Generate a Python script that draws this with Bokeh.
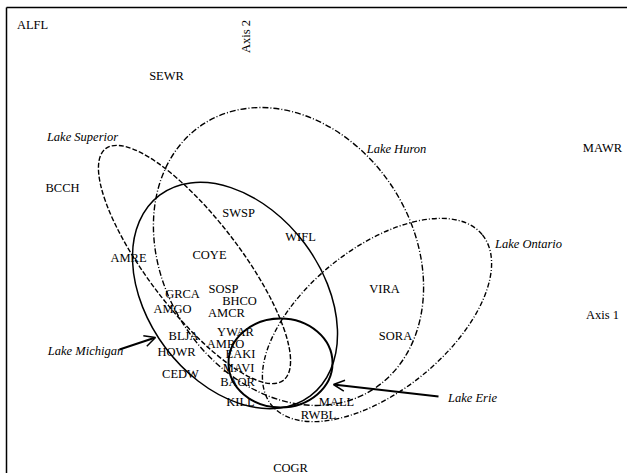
from bokeh.plotting import figure
from bokeh.models import Range1d, ColumnDataSource, Arrow, OpenHead, FixedTicker
from bokeh.core.properties import value
from bokeh.embed import file_html
from bokeh.resources import INLINE

# Species scores on the first two ordination axes
species = ["ALFL", "SEWR", "BCCH", "MAWR", "SWSP", "WIFL", "AMRE", "COYE",
           "VIRA", "GRCA", "SOSP", "BHCO", "AMGO", "AMCR", "YWAR", "BLJA",
           "AMRO", "SORA", "HOWR", "EAKI", "CEDW", "MAVI", "BAOR", "KILL",
           "MALL", "RWBL", "COGR"]
axis1 = [-2.13, -0.79, -1.83, 3.57, -0.07, 0.55, -1.17, -0.36,
         1.39, -0.63, -0.22, -0.06, -0.73, -0.19, -0.10, -0.62,
         -0.20, 1.50, -0.69, -0.05, -0.65, -0.07, -0.08, -0.05,
         0.91, 0.73, 0.45]
axis2 = [2.90, 2.39, 1.27, 1.67, 1.02, 0.78, 0.57, 0.60,
         0.26, 0.21, 0.26, 0.14, 0.06, 0.02, -0.17, -0.21,
         -0.29, -0.21, -0.37, -0.39, -0.59, -0.53, -0.67, -0.87,
         -0.87, -1.00, -1.53]

# Lake ellipses: centre, full axis lengths and rotation (degrees)
lakes = ["Lake Superior", "Lake Huron", "Lake Michigan", "Lake Ontario", "Lake Erie"]
ell_x = [-0.51, 0.43, -0.105, 1.315, 0.35]
ell_y = [0.50, 0.58, 0.19, -0.055, -0.485]
ell_w = [2.92, 3.15, 2.51, 2.71, 1.04]
ell_h = [0.92, 2.50, 1.74, 1.43, 0.89]
ell_angle = [-52.5, -57.7, -53.1, 38.9, 0.0]

# Lake name positions
lake_lab_x = [-1.63, 1.51, -1.60, 2.83, 2.27]
lake_lab_y = [1.78, 1.66, -0.36, 0.71, -0.83]

# Pointers from a lake name to its ellipse
pointer_lakes = ["Lake Michigan", "Lake Erie"]
pointer_x0 = [-1.26, 1.93]
pointer_y0 = [-0.35, -0.82]
pointer_x1 = [-0.90, 0.88]
pointer_y1 = [-0.23, -0.70]

axis_titles = ["Axis 1", "Axis 2"]
axis_title_x = [3.57, 0.0]
axis_title_y = [0.0, 2.78]

FONT = "Liberation Serif"

p = figure(width=627, height=473, output_backend="svg", toolbar_location=None,
           x_range=Range1d(-2.39, 3.82), y_range=Range1d(-1.59, 3.07),
           x_axis_location="above", min_border_left=6, min_border_top=7,
           min_border_right=0, min_border_bottom=0,
           outline_line_color=None, background_fill_color="white",
           border_fill_color="white")
p.grid.visible = False
for ax in (p.xaxis[0], p.yaxis[0]):
    ax.ticker = FixedTicker(ticks=[])
    ax.major_tick_line_color = None
    ax.minor_tick_line_color = None
    ax.major_tick_out = 0
    ax.major_tick_in = 0
    ax.major_label_standoff = 0
    ax.axis_line_color = "black"
    ax.axis_line_width = 1.5

styles = {
    "Lake Superior": dict(line_dash="5 2", line_width=1.4),
    "Lake Huron": dict(line_dash="6 2 1 2", line_width=1.4),
    "Lake Michigan": dict(line_dash="solid", line_width=1.5),
    "Lake Ontario": dict(line_dash="5 2 1 2", line_width=1.4),
    "Lake Erie": dict(line_dash="solid", line_width=2.0),
}
for i, lake in enumerate(lakes):
    p.ellipse(x=[ell_x[i]], y=[ell_y[i]], width=[ell_w[i]], height=[ell_h[i]],
              angle=[ell_angle[i]], angle_units="deg", fill_color=None,
              line_color="black", **styles[lake])

src = ColumnDataSource(dict(x=axis1, y=axis2, t=species))
p.text(x="x", y="y", text="t", source=src, text_font=value(FONT),
       text_font_size="12.5px", text_align="center", text_baseline="middle",
       text_color="black")

lake_src = ColumnDataSource(dict(x=lake_lab_x, y=lake_lab_y, t=lakes))
p.text(x="x", y="y", text="t", source=lake_src, text_font=value(FONT),
       text_font_size="12.5px", text_font_style="italic", text_align="center",
       text_baseline="middle", text_color="black")

p.text(x=[axis_title_x[0]], y=[axis_title_y[0]], text=[axis_titles[0]],
       text_font=value(FONT), text_font_size="12.5px", text_align="center",
       text_baseline="middle", text_color="black")
p.text(x=[axis_title_x[1]], y=[axis_title_y[1]], text=[axis_titles[1]],
       text_font=value(FONT), text_font_size="12.5px", text_align="center",
       text_baseline="middle", text_color="black", angle=90, angle_units="deg")

for i in range(len(pointer_lakes)):
    p.add_layout(Arrow(end=OpenHead(size=11, line_width=1.5, line_color="black"),
                       x_start=pointer_x0[i], y_start=pointer_y0[i],
                       x_end=pointer_x1[i], y_end=pointer_y1[i],
                       line_width=2, line_color="black"))

open("out.html", "w").write(file_html(p, INLINE))
